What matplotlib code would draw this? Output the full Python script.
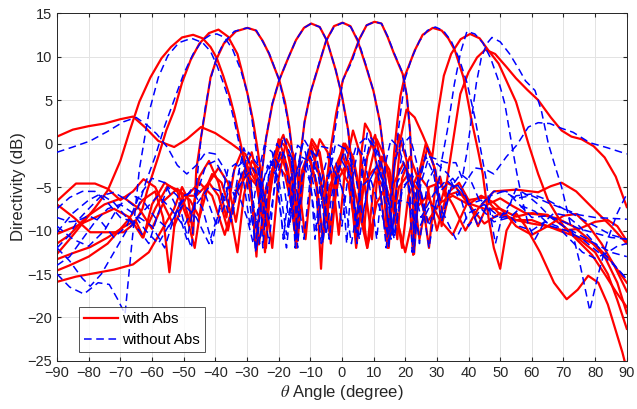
import numpy as np
import matplotlib
matplotlib.use('Agg')
import matplotlib.pyplot as plt

plt.rcParams['font.family'] = ['Liberation Sans', 'DejaVu Sans']
plt.rcParams['mathtext.fontset'] = 'stix'

# Beam patterns (theta deg, directivity dB), with absorber
with_abs_m47 = [(-90,-12.7),(-86,-11),(-82,-9.2),(-78,-7.4),(-74,-5.4),(-70,-2),(-67,1.5),(-64,4.8),(-60.5,7.6),(-57,9.8),
    (-54,11.1),(-50.5,12.2),(-47,12.5),(-44,12.1),(-41.5,11.1),(-39.5,9.8),(-37.5,7.8),(-35.5,5.5),(-34,3.4),(-32,0),
    (-30,-3.6),(-28,-7.4),(-26.2,-11.6),(-24,-5.5),(-21,-2.2),(-18,-3.6),(-15,-8.5),(-12.5,-3),(-10,-0.5),(-7,-3.5),
    (-4,-10),(-1,-4),(2,-2),(5,-7),(8,-12),(11,-6.8),(14,-5),(17,-8.2),(20,-12.5),(23,-7.6),(27,-6),(31,-8.8),
    (35,-10.5),(40,-6.5),(45,-6.2),(50,-8.2),(55,-8.8),(60,-8.8),(65,-9.5),(70,-10),(75,-9.8),(80,-9),(84,-8.8),
    (87,-9.5),(90,-11.2)]
with_abs_m39 = [(-90,-13.3),(-85,-12.6),(-79.5,-11.9),(-74,-10.8),(-69,-9.6),(-65,-8.8),(-63,-7.5),(-61.5,-5.4),(-58,-1.5),
    (-55.5,1.5),(-53,3.8),(-50.5,7),(-47.8,9.6),(-45,11.5),(-42,12.7),(-39,13.1),(-36,12.3),(-33,10.3),(-31.5,8.2),
    (-29.8,5.7),(-28,2.5),(-26.5,-1),(-25,-5),(-24,-9.5),(-22,-3.5),(-19.5,-1),(-17,-3.5),(-15,-9.5),(-13,-4),
    (-10.5,-1.5),(-8,-4.5),(-6,-11),(-4,-5),(-1,-2.5),(2,-4.5),(4,-9),(7,-4.5),(10,-3),(13,-5),(15.5,-10.5),(18,-5),
    (21,-3.5),(24,-5.5),(27,-9),(31,-6.8),(35,-6),(40,-7),(45,-9.2),(50,-8),(55,-8.8),(60,-9.2),(65,-9.5),(70,-10.2),
    (75,-10.8),(80,-11.6),(85,-13.5),(90,-16)]
with_abs_m30 = [(-90,-15.9),(-84,-15.3),(-78,-14.9),(-72,-14.5),(-66,-13.9),(-61,-12.5),(-57,-10),(-53,-7.5),(-50.5,-5),
    (-48.5,-6.5),(-47,-10.5),(-46,-3),(-44.5,0.7),(-41.5,7.6),(-39.5,9.8),(-37.3,11.5),(-33.5,12.9),
    (-29.8,13.3),(-27.2,13),(-25,11.8),(-23,10.3),(-19.8,7.3),(-18,4.8),(-16.6,1.9),(-15,-3.1),(-14,-11.2),(-12,-3.5),
    (-9.5,0.5),(-7,-1),(-5,-5.5),(-3.5,-11.5),(-1.5,-4),(1,0),(3.5,-1.5),(6,-6),(8,-12),(10,-5),(12.5,-1.5),
    (15,-3),(17.5,-8.5),(19,-12),(21,-6),(24,-3.5),(27,-5),(30,-10),(33,-6),(37,-5.5),(41,-7),(45,-7.5),
    (50,-7.5),(55,-8.4),(60,-8),(65,-8.2),(70,-9.5),(75,-11),(80,-12.5),(84,-15),(87,-18),(90,-21.3)]
with_abs_m10 = [(-90,-10.4),(-84,-9.5),(-78,-8.5),(-72,-7.5),(-67,-8.5),(-63,-10.8),(-59,-7.5),(-55,-4.8),(-51,-5.5),
    (-48,-9),(-45,-3.8),(-42,-2),(-39,-4.5),(-36.5,-8.5),(-34,-3),(-31.5,-0.8),(-29,-4),(-27,-13),(-25.5,-4),(-24,0.5),
    (-22,4.5),(-19.8,7.3),(-17,9.8),(-14.5,11.9),(-12,13.3),(-9.7,13.8),(-7,13.4),(-4.7,11.8),(-2,8.5),(0,5.5),(2,1.5),
    (3.5,-4),(4.5,-11),(6,-1.5),(7.3,2.3),(9,1.2),(11,-2.5),(13,-8),(14.5,-12),(16.5,-4.5),(19.5,-2.2),(22.5,-5),
    (24.5,-11),(27.5,-5),(31,-4.5),(35,-7),(39,-10),(43,-7.5),(48,-5.5),(55,-5.3),(62,-5.6),(66,-4.9),(69.4,-4.5),
    (74,-5.5),(80,-7.7),(85,-9.5),(90,-11.5)]
with_abs_0 = [(-90,-11.5),(-86,-10.5),(-81,-8.5),(-75,-7),(-69,-6.2),(-64,-7.5),(-60,-9.8),(-56,-6.5),(-52,-5.2),
    (-48,-6.5),(-45,-8.5),(-42,-4.5),(-39,-2.8),(-36,-4.5),(-33.5,-9),(-31,-3.5),(-28.5,-1),(-26,-5),(-24.3,-12.5),
    (-23,-6),(-21,-1),(-18.5,1.0),(-16,-2.5),(-14.5,-12),(-13.3,-2),(-11.8,2.5),(-9.8,6),(-7.3,9),(-5,11.8),(-2.5,13.5),
    (0.2,13.9),(2.7,13.5),(5,11.8),(7.5,9),(10,6),(12,2.5),(13.5,-2),(14.8,-12),(16.5,-3),(18,1.0),(20.5,-2),
    (22.5,-12.8),(24,-4),(26.5,0),(29,-2.5),(31,-7),(33,-4.5),(36,-5),(40,-7),(44,-6),(48,-6.8),(52,-8.2),(55,-9.5),
    (60,-10.5),(65,-9.5),(70,-8.3),(74,-8.1),(78,-9.5),(82,-11.5),(86,-14),(90,-17)]
with_abs_10 = [(-90,-14.6),(-86,-14),(-80,-13),(-74,-11.5),(-68,-9),(-63,-6.5),(-59,-5.5),(-56.5,-8.5),(-54.5,-14.8),
    (-52.5,-8),(-50,-6),(-46,-6),(-42,-4.5),(-39,-6),(-36,-10),(-33,-4.8),(-30,-2.5),(-27,-4.5),(-24.5,-9.5),(-22,-3),
    (-19.5,0),(-17,-3),(-15,-10),(-13,-4),(-10.5,-1),(-8,-5),(-6.6,-14.4),(-5.2,-5.5),(-3.5,-0.5),(-1.8,3.5),(0.3,7.3),
    (3,9.6),(5.5,12),(7.8,13.6),(10.3,14),(12.5,13.8),(14.5,12.2),(16.5,10.3),(19.2,8),(20.5,5.5),(21.5,1.5),(22.2,-4),
    (22.8,-12.7),(24.5,-4),(27,-0.5),(29.5,-3),(31.5,-9.5),(34,-5.5),(37,-4.5),(40,-6.5),(43,-9.5),(46,-7),(50,-6.3),
    (54,-7.2),(58,-8),(63,-8.2),(68,-8.6),(73,-9.5),(78,-11),(83,-13),(87,-16),(90,-19.5)]
with_abs_29 = [(-90,-6.6),(-84,-4.6),(-78,-4.6),(-74,-5.2),(-70,-6.5),(-66,-5.5),(-62.7,-4.1),(-59,-5),(-55,-8),(-53,-9.5),
    (-49,-6),(-45,-4.5),(-41,-6),(-37,-10.5),(-33.5,-5.8),(-30,-3.5),(-26.5,-5),(-24,-8.5),(-21.5,-3),(-19,-1.5),
    (-16.5,-4.5),(-14.5,-9),(-12,-3),(-9.5,-0.5),(-7,-4),(-5,-9),(-2.5,-3),(0,-1),(2.5,-4),(4.5,-12),(6,-7.5),(8,-1.5),
    (10.5,1),(12.8,-3),(14.5,-11.5),(15.5,-6),(16.5,-1),(17.5,2.5),(18.5,5.5),(19.9,7.8),(21,8.8),(23,10.7),
    (25.5,12.5),(28.7,13.3),(31.5,13),(33.6,12.1),(35.7,10.7),(38.4,7.6),(41,2.6),(43,-0.8),(44.5,-3.5),(46.3,-8.5),
    (48,-12),(50,-14.4),(52,-10),(55,-8),(58,-9.5),(62.6,-12.5),(67,-16),(71,-17.9),(74.5,-16.8),(77.8,-15.2),(81,-16),
    (84,-18.5),(86.5,-21.5),(88.6,-24),(90,-26)]
with_abs_40 = [(-90,-7),(-84.7,-8.5),(-79.5,-10.2),(-74,-10.2),(-69,-10.2),(-65,-9),(-62.7,-10.8),(-60,-7),(-56,-4.5),
    (-52,-5.5),(-49,-8.5),(-46.5,-12),(-44,-6),(-41,-3.5),(-38,-4.5),(-35.5,-7.5),(-33,-12.5),(-31,-6),(-28.5,-2),
    (-26,-3),(-23.5,-8),(-22,-12),(-20,-4),(-17.5,0.5),(-15,-1.5),(-13,-6.5),(-11.5,-11),(-9.5,-3.5),(-7,0.5),
    (-4.5,-1),(-2.5,-5.5),(-1,-10.5),(1,-3),(3.5,1.5),(6,-1.5),(8,-7),(9.5,-11),(11,-4.5),(13,-1.5),(15,-4),(16.5,-8),
    (18.5,0.5),(20.4,3.9),(23,3),(25.5,1),(28.5,-1.6),(30.3,3.5),(32.2,7.8),(34.5,10.3),(37.5,12),(40.5,12.6),
    (43.5,12.1),(46.5,10.6),(49.5,9.2),(52,7.2),(55,4.8),(58.9,0),(62,-3.5),(65.2,-6.6),(70,-9.5),(74.6,-11.2),
    (79,-12.8),(83,-15),(86.5,-17),(90,-18.8)]
with_abs_45 = [(-90,0.8),(-85,1.6),(-80,2),(-75,2.3),(-70,2.8),(-66,3.1),(-62,1.8),(-58,0.3),(-53,-0.4),(-49,0.5),
    (-44.5,1.9),(-40,1.2),(-35,0),(-30.5,-1.2),(-27.5,-3.5),(-25.5,-8),(-24,-12),(-22.5,-4),(-20,0.5),(-17.5,-0.5),
    (-15.5,-4),(-14,-9.5),(-12,-3),(-9.5,0),(-7,-1.5),(-5,-6),(-3.8,-10.5),(-2,-4),(0.5,0),(3,-1.2),(5.5,-5.5),
    (7,-10),(8.5,-3.5),(11,0.5),(13.5,-1.5),(16,-6.5),(17.5,-11),(19,-4),(21.5,-1.5),(24,-4),(26,-8),(27.5,-12),
    (29.5,-5),(31,-3.8),(32.5,-6),(34.3,-1.6),(37.4,5.7),(40,8.2),(42.7,9.9),(45.3,10.8),(48.4,10.3),(52,8.8),(55,7.5),
    (58.5,6.2),(62,5),(66,3),(69.4,1.5),(72.5,0.8),(75.7,0.5),(79.5,-0.3),(83,-1.6),(86.5,-3.8),(90,-7.3)]

# Same beams without absorber
without_abs_m47 = [(-90,-15),(-86,-16.5),(-81.5,-17.3),(-77,-16),(-73.5,-16.2),(-71,-17.8),(-68.5,-19.6),(-66.5,-12),
    (-64,-3),(-61,3.5),(-58,7.6),(-55,10.1),(-51.5,11.6),(-47.5,12.1),(-44,11.6),(-41.5,10.6),(-39.5,9),(-37.5,7),
    (-35.5,4.8),(-34,2.6),(-32,-0.8),(-30,-4.5),(-28.3,-9),(-27,-12.3),(-25,-4.5),(-22.5,-2),(-20,-4),(-17.5,-10.5),
    (-15.5,-4.5),(-12.5,-2),(-10,-4.5),(-8,-10),(-5.5,-4),(-2.5,-3),(0.5,-5.5),(3,-11.5),(6,-5),(9,-4),(12,-7.5),
    (15,-11),(18,-6.5),(21,-6.8),(24,-10),(28,-7),(32,-8),(36,-11),(40,-8),(45,-7),(50,-8.5),(55,-6),(60,-5.8),
    (65,-6.5),(70,-7.5),(75,-8.5),(80,-9.5),(85,-10.5),(90,-11)]
without_abs_m39 = [(-90,-8.5),(-86,-9),(-83.6,-8.9),(-80,-7.5),(-76,-6),(-72,-5.6),(-68,-6.5),(-64.5,-7.5),(-62,-4.5),
    (-59,-1.5),(-56,2),(-53,5),(-50,8),(-47,10.3),(-44,11.9),(-41.5,12.5),(-39.5,12.6),(-37,12.2),(-34.5,10.8),
    (-32,8.5),(-30,6),(-28.5,3),(-27,-1),(-25.8,-6),(-25,-12),(-23,-3),(-20.5,0),(-18,-1.5),(-16,-7.5),(-14.5,-11),
    (-12.5,-3.5),(-10,-1.5),(-7.5,-3.5),(-5,-10.5),(-3,-5.5),(0,-2),(3,-4),(5.5,-11),(8,-5),(11,-2.5),(14,-5),
    (16.5,-10.5),(19,-5),(22,-4),(25,-8.5),(29,-5.8),(33,-4.2),(37,-5.5),(40,-9.5),(44,-7.5),(48,-9),(53,-8.5),
    (57,-7.2),(61,-7.8),(66,-9.5),(71,-10),(76,-11),(81,-12.5),(86,-14),(90,-15.6)]
without_abs_m30 = [(-90,-10.2),(-85,-8),(-80,-6.5),(-76.3,-5.8),(-72,-6.8),(-68,-8.5),(-64,-10),(-61,-11.5),(-58,-8),
    (-55,-5),(-52,-6),(-49,-10.5),(-47.5,-12),(-46,-5),(-44.5,0.7),(-43,4.5),(-41.5,7.4),(-39.5,10),(-37.3,11.6),
    (-34,12.9),(-30,13.3),(-27,13),(-23,10.4),(-19.8,7.3),(-17.5,3.5),(-16.2,0.5),(-15,-4),(-14,-12),(-12.5,-4),
    (-10.5,-0.5),(-8,-1.5),(-6,-5.5),(-4,-11),(-2,-4),(1,-0.5),(4,-3),(6.5,-8.5),(8.5,-4.5),(11,-2.5),(14,-5.5),
    (16.5,-11),(19,-5.5),(22,-3.5),(25,-5.5),(27.5,-9.5),(31,-5.5),(35,-4),(39,-6),(43,-9.5),(47,-6),(51,-5.5),
    (55,-6.3),(60,-6),(65,-6.8),(70,-7.5),(75,-8.2),(80,-8.5),(85,-8.6),(90,-8.7)]
without_abs_m10 = [(-90,-12),(-86,-10.5),(-83.6,-8.9),(-80,-8.3),(-76,-9),(-72,-10.8),(-68,-9.5),(-64,-6),(-60,-4),
    (-56,-4.5),(-52,-7.5),(-49,-11),(-46,-6),(-43,-2.5),(-40,-2),(-37,-4),(-35,-8.5),(-33,-4),(-31,-0.5),(-29,-2.5),
    (-27.3,-12.5),(-25.5,-4),(-24,0.6),(-22,4.6),(-19.8,7.3),(-17,9.8),(-14.5,11.9),(-12,13.3),(-9.7,13.8),(-7,13.4),
    (-4.7,11.8),(-2,8.5),(0,5.5),(2,1.3),(3.5,-4.5),(4.7,-11.5),(6.3,-3),(8,1.2),(10,0.3),(12,-2.5),(13.5,-6.5),
    (15.5,-11),(17.5,-4.5),(20,-2.5),(22.5,-5.5),(24.5,-11.5),(27,-4.5),(30,-2.3),(33.5,-3.5),(36.5,-6),(39,-4.5),
    (42,-2.8),(45.5,-3),(48,-3.5),(52,-1.5),(55.2,-0.2),(58.9,1.9),(62,2.4),(65.7,2.3),(69,1.8),(73,1.3),(78.3,0.1),
    (84,-0.5),(90,-1.2)]
without_abs_0 = [(-90,-7.5),(-86,-6.2),(-82,-5.5),(-78,-5.5),(-74,-6.8),(-70,-8.5),(-66,-9),(-62,-7.5),(-58,-6),
    (-54,-7.5),(-50,-9.5),(-46,-7),(-42,-5),(-38,-5.5),(-35,-9),(-32.5,-4.5),(-29.5,-1),(-26.5,-2.5),(-24.5,-8),
    (-23,-11.5),(-21,-3.5),(-18.5,0.8),(-16,-1.5),(-14.8,-12),(-13.3,-2),(-11.8,2.5),(-9.8,6),(-7.4,9),(-5,11.8),
    (-2.5,13.4),(0.2,13.9),(2.8,13.4),(5.2,11.8),(7.6,9),(10,6),(12,2.5),(13.5,-2),(14.8,-12),(16.5,-2.5),(19,0.8),
    (21,-2.5),(22.2,-12.5),(24,-4),(26.5,-1.5),(29,-3.5),(31.5,-9),(34,-5),(37,-4.8),(40,-7),(44,-6.5),(48,-8.5),
    (52,-8),(55,-5.2),(58,-5.8),(62,-7),(66,-8.5),(70,-9.5),(75,-10.5),(80,-11.5),(85,-12.5),(90,-13)]
without_abs_10 = [(-90,-9.5),(-85,-11),(-80,-11.8),(-75,-10),(-71,-7.5),(-67,-5.8),(-63,-6.5),(-59,-8.5),(-55,-9.8),
    (-51,-7),(-47,-5),(-43,-6),(-39.5,-9.5),(-37,-7),(-34,-3),(-31,-2),(-28.5,-5.5),(-26,-11.5),(-24,-5),(-21.5,-1.5),
    (-19,-3),(-16.5,-9.5),(-14.5,-3.5),(-12,0.5),(-9.5,-1),(-7.5,-6),(-6,-11.5),(-4.5,-5),(-3,-0.5),(-1.5,3.2),
    (0.3,7.3),(3,9.3),(5.5,12),(7.8,13.6),(10.3,14),(12.5,13.8),(14.5,12.3),(16.5,10.4),(19.2,8.1),(20.5,5.5),
    (21.5,1.5),(22.2,-4),(22.8,-12.5),(24.5,-4.5),(27,-0.5),(29.5,-3),(32,-8.5),(34.5,-5),(37.5,-3.5),(41,-4.5),
    (44,-7),(48,-5.5),(52,-5.5),(56,-7),(60,-8.5),(65,-8.3),(70,-9),(75,-9.8),(80,-10.3),(85,-10.8),(90,-11)]
without_abs_29 = [(-90,-12),(-86,-13.5),(-82,-15.5),(-79.5,-16.4),(-76,-15),(-72,-12.5),(-68,-10),(-64,-8.5),(-60,-9.5),
    (-56,-12),(-53,-8.5),(-50,-6),(-47,-5.5),(-44,-7.5),(-41,-11.5),(-38.5,-7),(-36,-3),(-33.5,-2.3),(-31,-4.5),
    (-29,-9.5),(-27,-4.5),(-24.5,-0.2),(-22,-1),(-20,-5.5),(-18.5,-11),(-16.5,-4.5),(-14,-0.2),(-11.5,-1),(-9.5,-6),
    (-8.5,-11),(-7,-5),(-4.5,-1.5),(-2,-2),(0.5,-6),(1.5,-11.5),(3,-4.5),(5.5,0),(8,0.8),(10.5,-1),(12.5,-6.5),
    (14,-12),(15.5,-6),(17,-1),(18.5,3.5),(20,7.5),(22,9.8),(24.5,11.8),(27,13),(29.5,13.4),(32,13),(34.5,11.8),
    (37,9.8),(39.5,7),(42,3),(44,-1),(45.5,-4),(47,-8.5),(48.5,-11.5),(50.5,-8.5),(53,-8.3),(56,-9.5),(60,-10),
    (64,-9),(68,-9.5),(72,-11),(76,-12.5),(80,-13.2),(84,-12.5),(87,-11.8),(90,-11.5)]
without_abs_40 = [(-90,-14),(-86,-13),(-82,-11),(-78,-9),(-74,-7.5),(-70,-7),(-66,-8),(-62,-10),(-58,-11.5),(-54,-9),
    (-50,-7),(-46,-8.5),(-42,-11.5),(-39,-8),(-36,-5),(-33,-5.5),(-30,-8.5),(-28,-11.5),(-26,-6),(-23.5,-2.5),
    (-21,-3.5),(-19,-9),(-17.5,-12),(-15.5,-5),(-13,-1.5),(-10.5,-2),(-8,-6.5),(-6.5,-11.5),(-4.5,-4.5),(-2,0),
    (0.5,-0.5),(3,-4.5),(4.5,-9.5),(6.5,-3.5),(9,0.3),(11.5,-1),(14,-4.5),(16,-10.5),(17.5,-4.5),(19.5,0),(21.5,0.8),
    (23.5,-2),(25.5,-7),(27.5,-12),(29.5,-7.5),(31.5,-2),(33.3,1.5),(35.5,6.8),(37.5,10.5),(39.5,12.9),(42,12.6),
    (44.5,11.6),(47,9.8),(49.5,7.2),(51.5,4.5),(53,1.3),(55.2,-3.3),(57,-6.5),(59,-9.5),(61,-11),(64,-9),(67,-8),
    (71,-8.3),(75,-9.5),(80,-11.5),(85,-13.5),(90,-15.6)]
without_abs_47 = [(-90,-1),(-85,-0.4),(-79.5,0.3),(-74,1.4),(-69,2.5),(-65,3),(-61.5,2.1),(-58.5,1.1),(-55,-0.5),
    (-52,-2.5),(-49,-3.5),(-46,-2.5),(-43,-1),(-40,-1.2),(-37,-3),(-34,-6),(-31,-4),(-28,-2.8),(-25.5,-4.5),(-23,-9),
    (-21,-4.5),(-18.5,-1),(-16,-1.5),(-14,-6),(-12,-11),(-10,-4),(-7,-0.3),(-4.5,-0.5),(-2,-4),(0,-9.5),(2,-3.5),
    (4.5,-0.3),(7,-1.5),(9,-5.5),(11,-11),(13,-3.5),(15.5,0.5),(18,-0.5),(20.5,-3.5),(23,-10),(25,-4.5),(27.5,-1.5),
    (30,-1.8),(33,-2.2),(36,-2.2),(38,-4),(39.5,-1),(41,3),(42.5,7),(44,9.8),(45.8,11.5),(47.4,12.2),(50,11.7),
    (53,10.3),(56,8.5),(58,7.2),(61,6.1),(63,3.8),(65.2,0),(67.5,-2.8),(69.4,-5),(72,-9),(75,-13.5),(78.3,-19.2),
    (81,-15),(84,-11),(87,-8),(90,-5.8)]

with_abs = [with_abs_m47, with_abs_m39, with_abs_m30, with_abs_m10, with_abs_0,
            with_abs_10, with_abs_29, with_abs_40, with_abs_45]
without_abs = [without_abs_m47, without_abs_m39, without_abs_m30, without_abs_m10, without_abs_0,
               without_abs_10, without_abs_29, without_abs_40, without_abs_47]

fig = plt.figure(figsize=(6.37, 4.09), dpi=100)
ax = fig.add_axes([0.0895, 0.1174, 0.8945, 0.8506])

for k, curve in enumerate(with_abs):
    th, d = np.array(curve).T
    ax.plot(th, d, color='#ff0000', lw=1.6, label='with Abs' if k == 0 else None, zorder=2)
for k, curve in enumerate(without_abs):
    th, d = np.array(curve).T
    ax.plot(th, d, color='#0000ff', lw=1.1, ls=(0, (5, 3)), label='without Abs' if k == 0 else None, zorder=3)

ax.set_xlim(-90, 90)
ax.set_ylim(-25, 15)
ax.set_xticks(np.arange(-90, 91, 10))
ax.set_yticks(np.arange(-25, 16, 5))
ax.grid(True, color='#e3e3e3', lw=0.7)
ax.set_axisbelow(True)
ax.tick_params(direction='in', length=3, labelsize=10.5, colors='#262626', top=True, right=True,
               labeltop=False, labelright=False)
for s in ax.spines.values():
    s.set_color('#262626')
    s.set_linewidth(0.7)

ax.set_xlabel(r'$\theta$ Angle (degree)', fontsize=12, color='#262626', labelpad=2)
ax.set_ylabel('Directivity (dB)', fontsize=12, color='#262626', labelpad=1)

leg = ax.legend(loc='lower left', bbox_to_anchor=(0.038, 0.025), fontsize=11, frameon=True, fancybox=False,
                handlelength=2.2, borderpad=0.35, labelspacing=0.45, handletextpad=0.3, borderaxespad=0)
leg.get_frame().set_edgecolor('#262626')
leg.get_frame().set_linewidth(0.7)

fig.savefig('out.png', dpi=100)
